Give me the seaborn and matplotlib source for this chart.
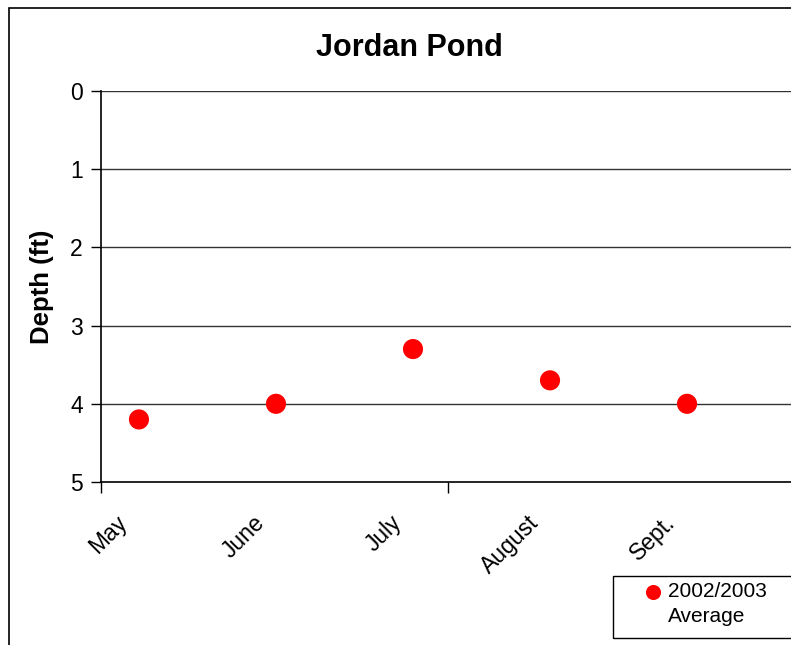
import matplotlib
matplotlib.use("Agg")
import matplotlib.pyplot as plt
from matplotlib.patches import Rectangle
import seaborn as sns
import pandas as pd
import numpy as np

months = ["May", "June", "July", "August", "Sept."]
depth_ft = [4.2, 4.0, 3.3, 3.7, 4.0]
series_label = "2002/2003\nAverage"
y_ticks = [0, 1, 2, 3, 4, 5]

df = pd.DataFrame({"pos": range(len(months)), "depth": depth_ft, "series": series_label})

sns.set_theme(style="white")
plt.rcParams["font.family"] = ["Liberation Sans", "DejaVu Sans"]
plt.rcParams["text.color"] = "#000000"
plt.rcParams["axes.labelcolor"] = "#000000"
plt.rcParams["xtick.color"] = "#000000"
plt.rcParams["ytick.color"] = "#000000"

fig = plt.figure(figsize=(7.91, 6.45), dpi=100)
ax = fig.add_axes([101 / 791, 1 - 482 / 645, (795 - 101) / 791, (482 - 91) / 645])

sns.scatterplot(data=df, x="pos", y="depth", hue="series", palette=["#ff0000"],
                s=210, edgecolor="none", ax=ax, zorder=3)

ax.set_ylim(5, 0)
ax.set_xlim(-0.277, 4.788)
ax.set_yticks(y_ticks)
ax.set_yticklabels([str(t) for t in y_ticks], fontsize=16.5)
for t in y_ticks[:-1]:
    ax.axhline(t, color="#333333", lw=1.0, zorder=1)

ax.set_xticks([-0.277, 2.2555])
ax.set_xticklabels([])
ax.tick_params(axis="x", direction="out", length=8, width=1, bottom=True)
ax.tick_params(axis="y", direction="out", length=7, width=1, left=True, pad=6)

for side in ["top", "right"]:
    ax.spines[side].set_visible(False)
for side in ["left", "bottom"]:
    ax.spines[side].set_color("#000000")
    ax.spines[side].set_linewidth(1.2)

for i, m in enumerate(months):
    ax.text(i - 0.17, 5.37, m, rotation=45, ha="right", va="top",
            rotation_mode="anchor", fontsize=16.5, color="#000000")

ax.set_xlabel("")
ax.set_ylabel("Depth (ft)", fontsize=18.5, fontweight="bold", labelpad=12)

fig.text(409 / 791, 1 - 48 / 645, "Jordan Pond", ha="center", va="center",
         fontsize=22, fontweight="bold", color="#000000")

# legend box spans to the right edge of the figure frame
fig.patches.append(Rectangle((613 / 791, 1 - 638 / 645), 0.3, (638 - 576) / 645,
                             transform=fig.transFigure, fill=False,
                             edgecolor="#000000", lw=1.0))
leg = ax.legend(loc="upper left", bbox_to_anchor=(626 / 791, 1 - 565 / 645),
                bbox_transform=fig.transFigure, frameon=False,
                fontsize=15, handletextpad=0.2, borderpad=0.3, markerscale=0.75,
                handlelength=1.0)
for txt in leg.get_texts():
    txt.set_linespacing(1.45)
    txt.set_color("#000000")
# put the marker beside the first line of the two-line label
for h in leg.legend_handles:
    if hasattr(h, "get_offsets"):
        offs = h.get_offsets()
        offs[:, 1] += 9
        h.set_offsets(offs)
    else:
        h.set_ydata(np.asarray(h.get_ydata(), dtype=float) + 9)

fig.patches.append(Rectangle((9 / 791, -0.1), 1.2, 1 - 8 / 645 + 0.1,
                             transform=fig.transFigure, fill=False,
                             edgecolor="#000000", lw=1.2))

fig.savefig("out.png", dpi=100)
